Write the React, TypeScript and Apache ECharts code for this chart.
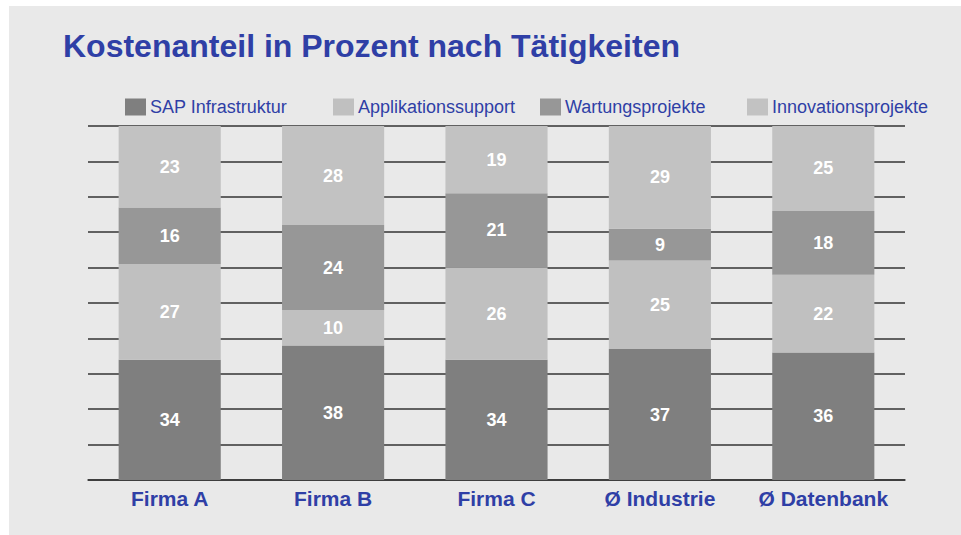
import React, { useEffect, useRef } from "react";
import * as echarts from "echarts";

const categories = ["Firma A", "Firma B", "Firma C", "Ø Industrie", "Ø Datenbank"];
const seriesNames = ["SAP Infrastruktur", "Applikationssupport", "Wartungsprojekte", "Innovationsprojekte"];
const sapInfra = [34, 38, 34, 37, 36];
const appSupport = [27, 10, 26, 25, 22];
const wartung = [16, 24, 21, 9, 18];
const innovation = [23, 28, 19, 29, 25];
const seriesColors = ["#7f7f7f", "#c0c0c0", "#979797", "#c2c2c2"];
const legendLefts = [120, 328, 535, 742];

const BLUE = "#2f3fa6";

export default function App() {
  const ref = useRef<HTMLDivElement>(null);
  useEffect(() => {
    if (!ref.current) return;
    const chart = echarts.init(ref.current, null, { renderer: "svg" });
    const values = [sapInfra, appSupport, wartung, innovation];
    chart.setOption({
      animation: false,
      backgroundColor: "#ffffff",
      graphic: [
        {
          type: "rect",
          z: -10,
          silent: true,
          shape: { x: 9, y: 6, width: 952, height: 529 },
          style: { fill: "#e9e9e9" },
        },
      ],
      title: {
        text: "Kostenanteil in Prozent nach Tätigkeiten",
        left: 58,
        top: 25,
        textStyle: {
          fontFamily: "Liberation Sans, Arial, sans-serif",
          fontWeight: "bold",
          fontSize: 32,
          color: BLUE,
        },
      },
      legend: seriesNames.map((n, i) => ({
        data: [n],
        left: legendLefts[i],
        top: 93,
        itemWidth: 21,
        itemHeight: 17,
        itemGap: 4,
        icon: "rect",
        textStyle: {
          fontFamily: "Liberation Sans, Arial, sans-serif",
          fontSize: 18,
          color: BLUE,
          padding: [0, 0, 0, -1],
        },
      })),
      grid: { left: 88, right: 56, top: 126, bottom: 55, containLabel: false },
      xAxis: {
        type: "category",
        data: categories,
        axisTick: { show: false },
        axisLine: { show: true, lineStyle: { color: "#333", width: 1.5 } },
        axisLabel: {
          interval: 0,
          hideOverlap: false,
          margin: 8,
          fontFamily: "Liberation Sans, Arial, sans-serif",
          fontWeight: "bold",
          fontSize: 21,
          color: BLUE,
        },
      },
      yAxis: {
        type: "value",
        min: 0,
        max: 100,
        interval: 10,
        axisLabel: { show: false },
        axisLine: { show: false },
        axisTick: { show: false },
        splitLine: { lineStyle: { color: "#333", width: 1.5 } },
      },
      series: seriesNames.map((n, i) => ({
        name: n,
        type: "bar",
        stack: "total",
        barWidth: "62.5%",
        clip: true,
        data: values[i],
        itemStyle: { color: seriesColors[i] },
        label: {
          show: true,
          position: "inside",
          color: "#ffffff",
          fontFamily: "Liberation Sans, Arial, sans-serif",
          fontWeight: "bold",
          fontSize: 18,
        },
      })),
    });
    return () => chart.dispose();
  }, []);
  return (
    <div
      ref={ref}
      style={{ position: "fixed", left: 0, top: 0, width: 961, height: 535 }}
    />
  );
}
